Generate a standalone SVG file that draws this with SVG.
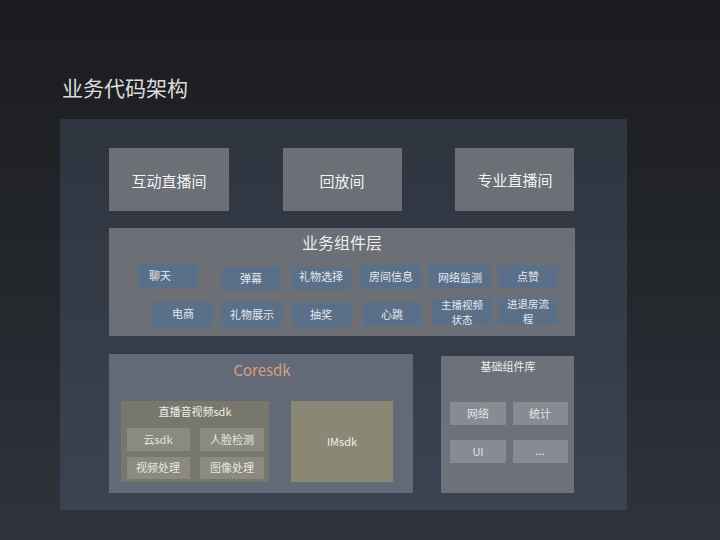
<svg xmlns="http://www.w3.org/2000/svg" width="720" height="540" viewBox="0 0 720 540">
<defs>
<linearGradient id="bg" x1="0" y1="0" x2="0" y2="1">
<stop offset="0" stop-color="#1b1c1f"/>
<stop offset="0.5" stop-color="#23262b"/>
<stop offset="1" stop-color="#2f343c"/>
</linearGradient>
<linearGradient id="panel" x1="0" y1="0" x2="0" y2="1">
<stop offset="0" stop-color="#2f353f"/>
<stop offset="1" stop-color="#3b4352"/>
</linearGradient>
<style>
text{font-family:"Noto Sans CJK SC","Liberation Sans",sans-serif;text-anchor:middle;dominant-baseline:central}
.top{fill:#6b6f76}
.topt{fill:#f2f2f2;font-size:15px}
.chip{fill:#5a6f88}
.chipt{fill:#e4e8ee;font-size:11px}
.chip2{fill:#e4e8ee;font-size:10.5px}
.sub{fill:#8b8a7f}
.subt{fill:#e6e6e0;font-size:11px}
.base{fill:#878b93}
</style>
</defs>
<rect width="720" height="540" fill="url(#bg)"/>
<text x="62" y="87" style="text-anchor:start;font-size:21px;fill:#dcdcdc">业务代码架构</text>
<rect x="60" y="119" width="567" height="391" fill="url(#panel)"/>

<g id="hudong"><rect class="top" x="109" y="148" width="120" height="63"/><text class="topt" x="169" y="180">互动直播间</text></g>
<g id="huifang"><rect class="top" x="283" y="148" width="119" height="63"/><text class="topt" x="342" y="180">回放间</text></g>
<g id="zhuanye"><rect class="top" x="455" y="148" width="119" height="63"/><text class="topt" x="515" y="179">专业直播间</text></g>

<g id="bizlayer">
<rect x="109" y="228" width="466" height="108" fill="#6c6f75"/>
<text x="342" y="242" style="font-size:16px;fill:#eeeeee">业务组件层</text>
</g>
<g id="chat"><rect class="chip" x="138" y="264" width="60" height="24"/><text class="chipt" x="160" y="275">聊天</text></g>
<g id="danmu"><rect class="chip" x="222" y="267" width="59" height="23"/><text class="chipt" x="251" y="278">弹幕</text></g>
<g id="giftsel"><rect class="chip" x="292" y="267" width="59" height="23"/><text class="chipt" x="321" y="276">礼物选择</text></g>
<g id="roominfo"><rect class="chip" x="361" y="265" width="60" height="24"/><text class="chipt" x="391" y="276">房间信息</text></g>
<g id="netmon"><rect class="chip" x="429" y="265" width="62" height="24"/><text class="chipt" x="460" y="277">网络监测</text></g>
<g id="like"><rect class="chip" x="498" y="265" width="60" height="23"/><text class="chipt" x="528" y="276">点赞</text></g>
<g id="ecom"><rect class="chip" x="152" y="302" width="61" height="25"/><text class="chipt" x="183" y="313">电商</text></g>
<g id="giftshow"><rect class="chip" x="222" y="302" width="60" height="25"/><text class="chipt" x="252" y="314">礼物展示</text></g>
<g id="lottery"><rect class="chip" x="292" y="303" width="59" height="24"/><text class="chipt" x="321" y="314">抽奖</text></g>
<g id="heartbeat"><rect class="chip" x="363" y="302" width="59" height="24"/><text class="chipt" x="392" y="314">心跳</text></g>
<g id="anchorstate"><rect class="chip" x="432" y="298" width="60" height="27"/><text class="chip2" x="462" y="304">主播视频</text><text class="chip2" x="462" y="319">状态</text></g>
<g id="enterexit"><rect class="chip" x="498" y="298" width="60" height="27"/><text class="chip2" x="528" y="303">进退房流</text><text class="chip2" x="528" y="318">程</text></g>

<g id="coresdk">
<rect x="109" y="354" width="304" height="139" fill="#626977"/>
<text x="262" y="369" style="font-size:15px;fill:#d9a17c">Coresdk</text>
</g>
<g id="avsdk">
<rect x="121" y="401" width="148" height="81" fill="#78776b"/>
<text x="195" y="411" style="font-size:11px;fill:#efefea">直播音视频sdk</text>
</g>
<g id="cloudsdk"><rect class="sub" x="127" y="428" width="63" height="23"/><text class="subt" x="158" y="439">云sdk</text></g>
<g id="face"><rect class="sub" x="200" y="428" width="64" height="23"/><text class="subt" x="232" y="439">人脸检测</text></g>
<g id="video"><rect class="sub" x="127" y="457" width="63" height="22"/><text class="subt" x="158" y="467">视频处理</text></g>
<g id="image"><rect class="sub" x="200" y="457" width="64" height="22"/><text class="subt" x="232" y="467">图像处理</text></g>
<g id="imsdk"><rect x="291" y="401" width="102" height="81" fill="#8a8775"/><text x="342" y="441" style="font-size:11px;fill:#efefea">IMsdk</text></g>

<g id="baselib">
<rect x="441" y="356" width="133" height="137" fill="#6d727a"/>
<text x="508" y="366" style="font-size:11px;fill:#eeeeee">基础组件库</text>
</g>
<g id="net"><rect class="base" x="450" y="402" width="56" height="23"/><text class="subt" x="478" y="413">网络</text></g>
<g id="stat"><rect class="base" x="513" y="402" width="55" height="23"/><text class="subt" x="540" y="413">统计</text></g>
<g id="ui"><rect class="base" x="450" y="440" width="56" height="23"/><text class="subt" x="478" y="451">UI</text></g>
<g id="more"><rect class="base" x="513" y="440" width="55" height="23"/><text class="subt" x="540" y="450">...</text></g>
<g id="connectors"/>
</svg>
